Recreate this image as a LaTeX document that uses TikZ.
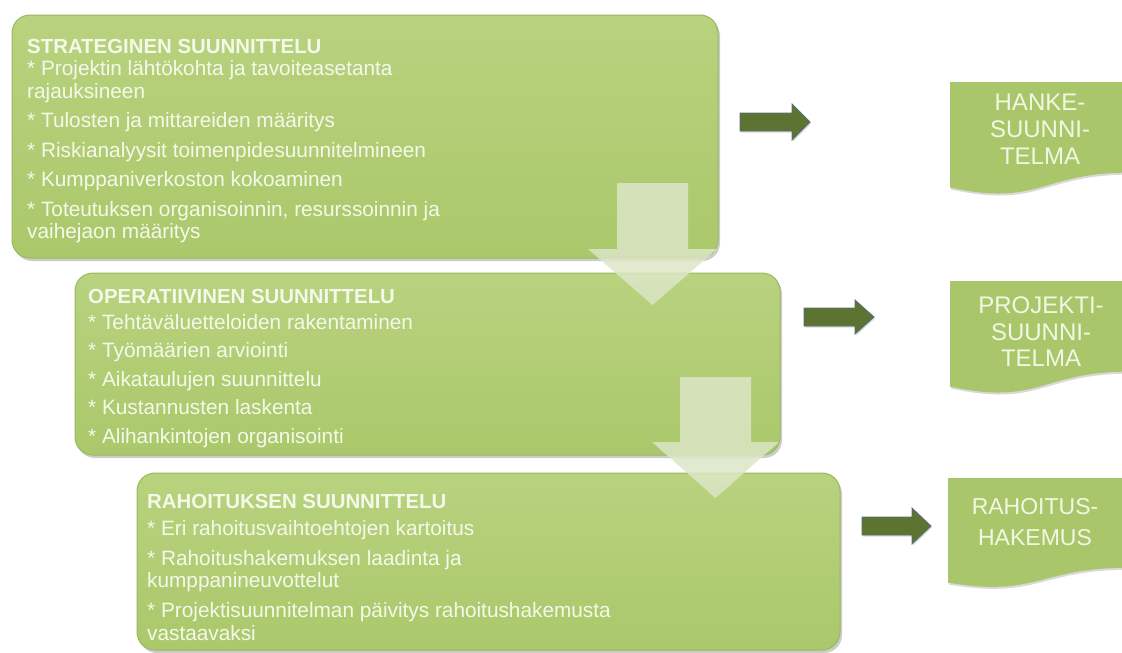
\documentclass[tikz,border=0pt]{standalone}
\usepackage{fontspec}
\setmainfont{Liberation Sans}
\usetikzlibrary{shadows}
\definecolor{boxtop}{HTML}{B8D27E}
\definecolor{boxbot}{HTML}{ABC86B}
\definecolor{boxedge}{HTML}{9AB85E}
\definecolor{boxtext}{HTML}{F4F9EA}
\definecolor{docgreen}{HTML}{A9C76A}
\definecolor{doctextc}{HTML}{F2F7E4}
\definecolor{arrowdark}{HTML}{5C7331}
\definecolor{arrowedge}{HTML}{56707A}
\definecolor{downfill}{HTML}{DCE6C6}
\begin{document}
\begin{tikzpicture}[x=1pt,y=-1pt,
  stage/.style={rounded corners=18pt, draw=boxedge, line width=1pt,
    top color=boxtop, bottom color=boxbot,
    drop shadow={shadow xshift=2pt,shadow yshift=-3pt,opacity=0.4},
    anchor=north west, inner sep=0pt, outer sep=0pt},
  stagetext/.style={anchor=north west, inner sep=0pt, align=left, text=boxtext,
    font=\fontsize{20.8}{22.5}\selectfont},
  headfont/.style={},
  docbody/.style={fill=docgreen, drop shadow={shadow xshift=1pt,shadow yshift=-2pt,opacity=0.3}},
  doctext/.style={anchor=north, inner sep=0pt, align=center, text=doctextc},
  rightarrow/.style={fill=arrowdark, draw=arrowedge, line width=0.8pt, line join=miter,
    drop shadow={shadow xshift=1pt,shadow yshift=-1.5pt,opacity=0.3}},
  downarrow/.style={fill=downfill, fill opacity=0.85, draw=none}
]
\useasboundingbox (0,0) rectangle (1122,653);

% stage boxes
\node[stage, minimum width=706pt, minimum height=243pt] (b1) at (12,15) {};
\node[stage, minimum width=705pt, minimum height=182pt] (b2) at (75,273) {};
\node[stage, minimum width=703pt, minimum height=177pt] (b3) at (137,473) {};

% texts in boxes
\node[stagetext] (t1) at (27,38.6) {\textbf{\fontsize{20.4}{22.5}\selectfont STRATEGINEN SUUNNITTELU}\\
* Projektin lähtökohta ja tavoiteasetanta\\
rajauksineen\\[7pt]
* Tulosten ja mittareiden määritys\\[7pt]
* Riskianalyysit toimenpidesuunnitelmineen\\[7pt]
* Kumppaniverkoston kokoaminen\\[7pt]
* Toteutuksen organisoinnin, resurssoinnin ja\\
vaihejaon määritys};

\node[stagetext] (t2) at (88,288.6) {\textbf{\fontsize{20.4}{22.5}\selectfont OPERATIIVINEN SUUNNITTELU}\\[3.5pt]
* Tehtäväluetteloiden rakentaminen\\[6pt]
* Työmäärien arviointi\\[6pt]
* Aikataulujen suunnittelu\\[6pt]
* Kustannusten laskenta\\[6pt]
* Alihankintojen organisointi};

\node[stagetext] (t3) at (147,493.6) {\textbf{\fontsize{20.4}{22.5}\selectfont RAHOITUKSEN SUUNNITTELU}\\[4.5pt]
* Eri rahoitusvaihtoehtojen kartoitus\\[7.5pt]
* Rahoitushakemuksen laadinta ja\\
kumppanineuvottelut\\[7.5pt]
* Projektisuunnitelman päivitys rahoitushakemusta\\
vastaavaksi};

% down arrows
\path[downarrow] (617,183) -- (688,183) -- (688,249) -- (717,249) -- (652.5,305)
  -- (588,249) -- (617,249) -- cycle;
\path[downarrow] (680,377) -- (751,377) -- (751,442) -- (779,442) -- (715.5,498)
  -- (652,442) -- (680,442) -- cycle;

% right arrows
\path[rightarrow] (740,113) -- (792,113) -- (792,104) -- (810,122) -- (792,140)
  -- (792,131) -- (740,131) -- cycle;
\path[rightarrow] (804,308) -- (855,308) -- (855,300) -- (874,317) -- (855,334)
  -- (855,326) -- (804,326) -- cycle;
\path[rightarrow] (862,517) -- (912,517) -- (912,508) -- (931,526) -- (912,544)
  -- (912,535) -- (862,535) -- cycle;

% documents
\path[docbody] (950,82) -- (1130,82) -- (1130,172.6)
  .. controls (1040,172.6) and (1040,207.1) .. (950,187.5) -- cycle;
\path[docbody] (950,281) -- (1130,281) -- (1130,371.6)
  .. controls (1040,371.6) and (1040,406.1) .. (950,386.5) -- cycle;
\path[docbody] (948,478) -- (1128,478) -- (1128,567.8)
  .. controls (1038,567.8) and (1038,597.6) .. (948,582.6) -- cycle;

\node[doctext, font=\fontsize{24}{27}\selectfont] (d1) at (1040,93.8) {HANKE-\\SUUNNI-\\TELMA};
\node[doctext, font=\fontsize{24}{26.5}\selectfont] (d2) at (1041,296.8) {PROJEKTI-\\SUUNNI-\\TELMA};
\node[doctext, font=\fontsize{23}{31}\selectfont] (d3) at (1035,498.5) {RAHOITUS-\\HAKEMUS};
\end{tikzpicture}
\end{document}
